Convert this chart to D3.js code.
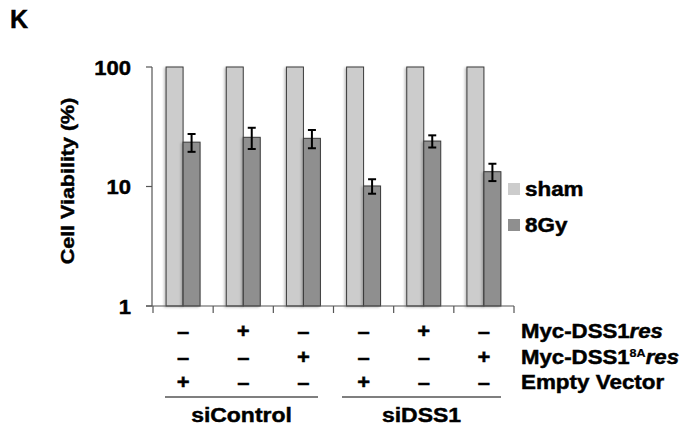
<!DOCTYPE html>
<html><head><meta charset="utf-8">
<script src="https://cdn.jsdelivr.net/npm/d3@7"></script>
<style>body{margin:0;background:#fff}svg{display:block;font-family:"Liberation Sans",Arial,sans-serif;font-weight:bold}text{stroke:#000;stroke-width:0.45px}</style>
</head><body>
<svg id="c" width="686" height="430"></svg>
<script>
const groups = ["g1","g2","g3","g4","g5","g6"];
const series = ["sham","8Gy"];
const sham = [100,100,100,100,100,100];
const gy8 = [23.5,25.8,25.3,10.1,24.0,13.3];
const gy8Err = [4.0,5.2,4.4,1.4,2.8,2.2];
const yTicks = [1,10,100];
const rowLabels = ["Myc-DSS1","Myc-DSS1","Empty Vector"];
const rowMycRes = ["–","+","–","–","+","–"];
const rowMyc8A = ["–","–","+","–","–","+"];
const rowEmpty = ["+","–","–","+","–","–"];
const siGroups = ["siControl","siDSS1"];
const colors = {sham:"#cccccc","8Gy":"#8f8f8f"};
const SX = 1.15;

const svg = d3.select("#c");
const defs = svg.append("defs");
const f = defs.append("filter").attr("id","sh").attr("x","-30%").attr("y","-5%").attr("width","160%").attr("height","110%");
f.append("feDropShadow").attr("dx",-1.5).attr("dy",1).attr("stdDeviation",1.3).attr("flood-color","#000").attr("flood-opacity",0.25);

const x = d3.scaleBand().domain(groups).range([153,514]).paddingInner(0).paddingOuter(0);
const x1 = d3.scaleBand().domain(series).range([0,x.bandwidth()]).paddingInner(0).paddingOuter(0.77);
const y = d3.scaleLog().domain([1,100]).range([306,67]);

function txt(g,xx,yy,s,anchor,size,sx){
  const t = g.append("text").attr("transform",`translate(${xx},${yy}) scale(${sx||SX},1)`)
    .attr("text-anchor",anchor||"start").attr("font-size",size).attr("fill","#000");
  if (s!=null) t.text(s);
  return t;
}

// K
txt(svg,10,28,"K","start",25,1);

// bars
const data = groups.map((g,i)=>({g,sham:sham[i],gy:gy8[i],err:gy8Err[i]}));
const bg = svg.append("g");
data.forEach(d=>{
  [["sham",d.sham],["8Gy",d.gy]].forEach(([s,v])=>{
    bg.append("rect").attr("x",x(d.g)+x1(s)).attr("y",y(v)).attr("width",x1.bandwidth())
      .attr("height",y(1)-y(v)).attr("fill",colors[s]).attr("stroke","#3a3a3a").attr("stroke-width",1)
      .attr("filter","url(#sh)");
  });
});
// error bars
data.forEach(d=>{
  const cx = x(d.g)+x1("8Gy")+x1.bandwidth()/2;
  const top = y(d.gy+d.err), bot = y(d.gy-d.err);
  bg.append("line").attr("x1",cx).attr("x2",cx).attr("y1",top).attr("y2",bot).attr("stroke","#000").attr("stroke-width",2);
  [top,bot].forEach(yy=>bg.append("line").attr("x1",cx-4).attr("x2",cx+4).attr("y1",yy).attr("y2",yy).attr("stroke","#000").attr("stroke-width",2));
});

// y axis
const ax = svg.append("g").attr("stroke","#555").attr("stroke-width",1.2);
ax.append("line").attr("x1",152).attr("x2",152).attr("y1",y(100)).attr("y2",y(1));
yTicks.forEach(t=>ax.append("line").attr("x1",146).attr("x2",152).attr("y1",y(t)).attr("y2",y(t)));
yTicks.forEach(t=>txt(svg,131,y(t)+7.5,String(t),"end",21,1.05).attr("stroke-width",0.6));
// x axis
ax.append("line").attr("x1",146).attr("x2",514).attr("y1",y(1)).attr("y2",y(1));
groups.forEach(g=>ax.append("line").attr("x1",x(g)).attr("x2",x(g)).attr("y1",y(1)).attr("y2",y(1)+7));
ax.append("line").attr("x1",514).attr("x2",514).attr("y1",y(1)).attr("y2",y(1)+7);

// y title
svg.append("text").attr("transform","translate(74,181) rotate(-90) scale(1.13,1)").attr("text-anchor","middle")
  .attr("font-size",19).text("Cell Viability (%)");

// legend
const lg = svg.append("g");
[["sham",183],["8Gy",219]].forEach(([s,yy])=>{
  lg.append("rect").attr("x",508).attr("y",yy).attr("width",12).attr("height",12).attr("fill",colors[s]).attr("stroke","none");
  txt(lg,525,yy+12.5,s,"start",19.5,1.15);
});

// table rows
const rows = [rowMycRes,rowMyc8A,rowEmpty];
const rowY = [338,364,389];
rows.forEach((r,ri)=>{
  r.forEach((s,i)=>txt(svg,x(groups[i])+x.bandwidth()/2,rowY[ri],s,"middle",20,1.1).attr("stroke-width",0.9));
});
// row labels
let t1 = txt(svg,521,rowY[0],null,"start",19.5,1.14);
t1.append("tspan").text(rowLabels[0]);
t1.append("tspan").attr("font-style","italic").text("res");
let t2 = txt(svg,521,rowY[1],null,"start",19.5,1.14);
t2.append("tspan").text(rowLabels[1]);
t2.append("tspan").attr("font-size",11).attr("dy",-7).attr("stroke-width",0.2).text("8A");
t2.append("tspan").attr("font-style","italic").attr("dy",7).text("res");
txt(svg,521,rowY[2],rowLabels[2],"start",19.5,1.15);

// group lines and labels
const spans = [[165,318],[342,501]];
siGroups.forEach((s,i)=>{
  svg.append("line").attr("x1",spans[i][0]).attr("x2",spans[i][1]).attr("y1",397).attr("y2",397).attr("stroke","#000").attr("stroke-width",1.2);
  txt(svg,(spans[i][0]+spans[i][1])/2,421.5,s,"middle",20.5,1.12);
});
</script>
</body></html>
